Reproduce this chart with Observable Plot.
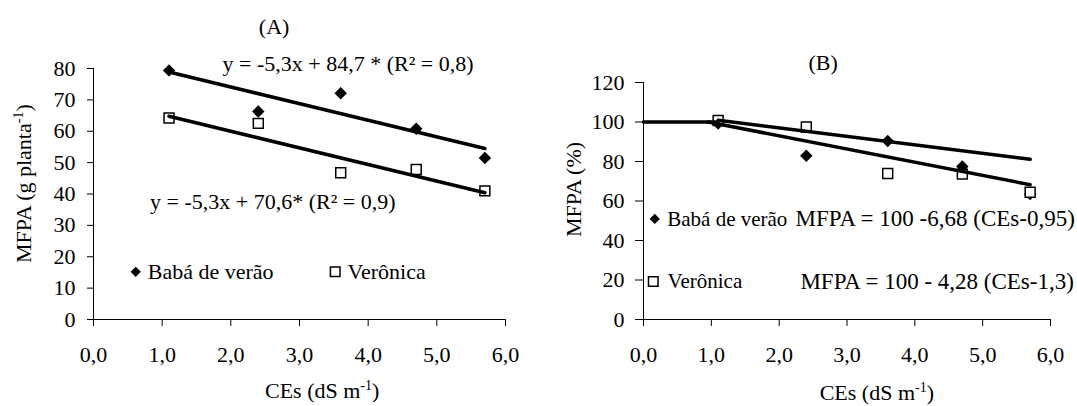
<!DOCTYPE html>
<html>
<head>
<meta charset="utf-8">
<script src="https://cdn.jsdelivr.net/npm/d3@7"></script>
<script src="https://cdn.jsdelivr.net/npm/@observablehq/plot@0.6"></script>
<style>
  html, body { margin: 0; padding: 0; background: #fff; }
  #wrap { display: flex; width: 1077px; height: 406px; overflow: hidden; }
  #wrap svg, #wrap svg text { font-family: "Liberation Serif", "Times New Roman", serif !important; }
</style>
</head>
<body>
<div id="wrap"></div>
<script>
// ---- data ----
const ces = [1.1, 2.4, 3.6, 4.7, 5.7];                 // CEs (dS m-1)
const mfpaBaba = [79.4, 66.3, 72.1, 60.8, 51.5];        // panel A, g planta-1
const mfpaVeronica = [64.2, 62.5, 46.8, 47.8, 41.0];
const relBaba = [99.2, 82.9, 90.4, 77.5, 63.5];         // panel B, %
const relVeronica = [100.8, 97.5, 73.9, 73.6, 64.4];
const xTicks = [0, 1, 2, 3, 4, 5, 6];
const yTicksA = [0, 10, 20, 30, 40, 50, 60, 70, 80];
const yTicksB = [0, 20, 40, 60, 80, 100, 120];
// regression coefficients (from the printed equations)
const fitA = {baba: {a: 84.7, b: -5.3}, veronica: {a: 70.6, b: -5.3}};
const fitB = {baba: {slope: 6.68, x0: 0.95}, veronica: {slope: 4.28, x0: 1.3}};
const fitRange = [1.1, 5.7];
const seriesNames = ["Babá de verão", "Verônica"];
const eqA = ["y = -5,3x + 84,7 * (R² = 0,8)", "y = -5,3x + 70,6* (R² = 0,9)"];
const eqB = ["MFPA = 100 -6,68 (CEs-0,95)", "MFPA = 100 - 4,28 (CEs-1,3)"];
const xTitle = "CEs (dS m-1)";
const yTitleA = "MFPA (g planta-1)";
const yTitleB = "MFPA (%)";

// ---- helpers ----
const fmt = d => d.toFixed(1).replace(".", ",");
const font = "Liberation Serif, Times New Roman, serif";
const pts = (ys) => ces.map((x, i) => ({x, y: ys[i]}));
const lineA = f => fitRange.map(x => ({x, y: f.a + f.b * x}));

function superscript(svg, full, base, s, rest) {
  const ns = "http://www.w3.org/2000/svg";
  for (const t of svg.querySelectorAll("text")) {
    if (t.textContent === full) {
      t.textContent = "";
      const a = document.createElementNS(ns, "tspan"); a.textContent = base;
      const b = document.createElementNS(ns, "tspan"); b.textContent = s;
      b.setAttribute("dy", "-8"); b.setAttribute("font-size", "14");
      const c = document.createElementNS(ns, "tspan"); c.textContent = rest;
      c.setAttribute("dy", "8");
      t.append(a, b, c);
    }
  }
}

const common = {
  style: {fontFamily: font, fontSize: "22px", color: "black", background: "white", overflow: "visible"}
};

// ---- panel A ----
const A = Plot.plot({
  ...common,
  width: 537, height: 406,
  marginLeft: 93, marginRight: 32, marginTop: 68, marginBottom: 87,
  x: {domain: [0, 6], ticks: xTicks, tickFormat: fmt, tickSize: 7, tickPadding: 20, label: null, line: true},
  y: {domain: [0, 80], ticks: yTicksA, tickSize: 6, tickPadding: 12, label: null, line: true},
  marks: [
    Plot.dot(pts(mfpaBaba), {x: "x", y: "y", symbol: "diamond2", r: 5.6, fill: "black"}),
    Plot.dot(pts(mfpaVeronica), {x: "x", y: "y", symbol: "square", r: 5.6, fill: "white", stroke: "black", strokeWidth: 1.5}),
    Plot.line(lineA(fitA.baba), {x: "x", y: "y", stroke: "black", strokeWidth: 3.5}),
    Plot.line(lineA(fitA.veronica), {x: "x", y: "y", stroke: "black", strokeWidth: 3.5}),
    Plot.text(["(A)"], {x: () => 2.63, y: () => 93.2, text: d => d, fontSize: 22}),
    Plot.text([eqA[0]], {x: () => 3.706, y: () => 81.4, text: d => d, fontSize: 22}),
    Plot.text([eqA[1]], {x: () => 2.61, y: () => 37.4, text: d => d, fontSize: 22}),
    Plot.dot([0], {x: () => 0.615, y: () => 15.2, symbol: "diamond2", r: 4.6, fill: "black"}),
    Plot.text([seriesNames[0]], {x: () => 0.79, y: () => 15.2, text: d => d, textAnchor: "start", fontSize: 22}),
    Plot.dot([0], {x: () => 3.52, y: () => 15.2, symbol: "square", r: 5.4, fill: "white", stroke: "black", strokeWidth: 1.5}),
    Plot.text([seriesNames[1]], {x: () => 3.70, y: () => 15.2, text: d => d, textAnchor: "start", fontSize: 22}),
    Plot.text([yTitleA], {x: () => -1.016, y: () => 43.3, text: d => d, rotate: -90, fontSize: 22}),
    Plot.text([xTitle], {x: () => 3.33, y: () => -22.9, text: d => d, fontSize: 22})
  ]
});

// ---- panel B ----
const B = Plot.plot({
  ...common,
  width: 540, height: 406,
  marginLeft: 106, marginRight: 27, marginTop: 82, marginBottom: 87,
  x: {domain: [0, 6], ticks: xTicks, tickFormat: fmt, tickSize: 7, tickPadding: 20, label: null, line: true},
  y: {domain: [0, 120], ticks: yTicksB, tickSize: 8, tickPadding: 11, label: null, line: true},
  marks: [
    Plot.dot(pts(relBaba), {x: "x", y: "y", symbol: "diamond2", r: 5.6, fill: "black"}),
    Plot.dot(pts(relVeronica), {x: "x", y: "y", symbol: "square", r: 5.6, fill: "white", stroke: "black", strokeWidth: 1.5}),
    Plot.line([{x: 0, y: 100}, {x: fitRange[0], y: 100}], {x: "x", y: "y", stroke: "black", strokeWidth: 3.5}),
    Plot.line([fitB.baba.x0, fitRange[1]].map(x => ({x, y: 100 - fitB.baba.slope * (x - fitB.baba.x0)})),
      {x: "x", y: "y", stroke: "black", strokeWidth: 3.5}),
    Plot.line(fitRange.map(x => ({x, y: 100 - fitB.veronica.slope * (x - fitB.veronica.x0)})),
      {x: "x", y: "y", stroke: "black", strokeWidth: 3.5}),
    Plot.text(["(B)"], {x: () => 2.647, y: () => 130, text: d => d, fontSize: 22}),
    Plot.dot([0], {x: () => 0.166, y: () => 50.9, symbol: "diamond2", r: 4.6, fill: "black"}),
    Plot.text([seriesNames[0]], {x: () => 0.35, y: () => 50.9, text: d => d, textAnchor: "start", fontSize: 21}),
    Plot.text([eqB[0]], {x: () => 2.242, y: () => 50.9, text: d => d, textAnchor: "start", fontSize: 23}),
    Plot.dot([0], {x: () => 0.144, y: () => 19.2, symbol: "square", r: 5.4, fill: "white", stroke: "black", strokeWidth: 1.5}),
    Plot.text([seriesNames[1]], {x: () => 0.355, y: () => 19.2, text: d => d, textAnchor: "start", fontSize: 21}),
    Plot.text([eqB[1]], {x: () => 2.313, y: () => 19.2, text: d => d, textAnchor: "start", fontSize: 23}),
    Plot.text([yTitleB], {x: () => -1.02, y: () => 65.8, text: d => d, rotate: -90, fontSize: 22}),
    Plot.text([xTitle], {x: () => 3.44, y: () => -37.3, text: d => d, fontSize: 22})
  ]
});

superscript(A, yTitleA, "MFPA (g planta", "-1", ")");
superscript(A, xTitle, "CEs (dS m", "-1", ")");
superscript(B, xTitle, "CEs (dS m", "-1", ")");

const wrap = document.getElementById("wrap");
wrap.append(A, B);
</script>
</body>
</html>
